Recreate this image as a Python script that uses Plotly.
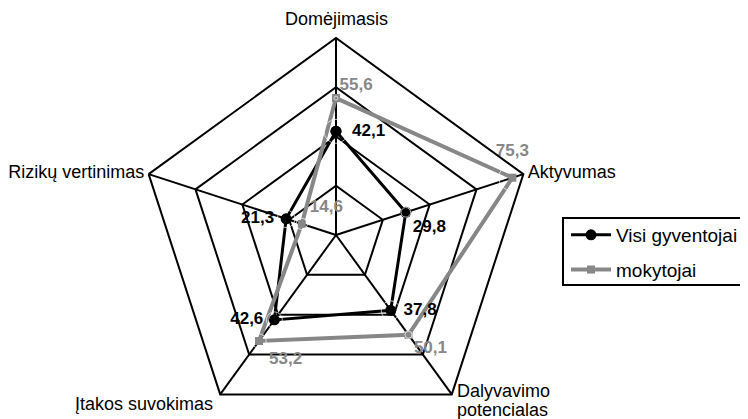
import plotly.graph_objects as go

categories = ["Domėjimasis", "Aktyvumas", "Dalyvavimo potencialas", "Įtakos suvokimas", "Rizikų vertinimas"]
tick_text = ["", "Aktyvumas", "", "", "Rizikų vertinimas"]
visi = [42.1, 29.8, 37.8, 42.6, 21.3]
mokytojai = [55.6, 75.3, 50.1, 53.2, 14.6]
series_names = ["Visi gyventojai", "mokytojai"]

# label placement styles (position + spacing from the point)
visi_pos = ["middle right", "bottom right", "middle right", "middle left", "middle left"]
visi_gap = [24, 9.6, 19, 16, 17.6]
mok_pos = ["top right", "top center", "bottom right", "bottom right", "top right"]
mok_gap = [4, 27, 7, 14.4, 11.2]

def fmt(v):
    return f"{v:.1f}".replace(".", ",")

def closed(a):
    return list(a) + [a[0]]

GREY = "#878787"
FONT = "Liberation Sans, Arial"
fig = go.Figure()
fig.add_trace(go.Scatterpolar(
    r=closed(visi), theta=closed(categories), name=series_names[0],
    mode="lines+markers", legendgroup="a",
    line=dict(color="black", width=3),
    marker=dict(symbol="circle", size=11, color="black"),
))
fig.add_trace(go.Scatterpolar(
    r=closed(mokytojai), theta=closed(categories), name=series_names[1],
    mode="lines+markers", legendgroup="b",
    line=dict(color=GREY, width=4),
    marker=dict(symbol="square", size=8, color=GREY),
))
# data labels
fig.add_trace(go.Scatterpolar(
    r=visi, theta=categories, mode="markers+text", showlegend=False, hoverinfo="skip",
    marker=dict(size=visi_gap, color="rgba(0,0,0,0)"),
    text=[fmt(v) for v in visi], textposition=visi_pos,
    textfont=dict(family=FONT, size=17, color="black", weight="bold"),
))
fig.add_trace(go.Scatterpolar(
    r=mokytojai, theta=categories, mode="markers+text", showlegend=False, hoverinfo="skip",
    marker=dict(size=mok_gap, color="rgba(0,0,0,0)"),
    text=[fmt(v) for v in mokytojai], textposition=mok_pos,
    textfont=dict(family=FONT, size=17, color=GREY, weight="bold"),
))

# page has an 8px body margin; figure is offset by it
W, H = 740, 440
cx, cy, R = 328, 227, 197

def ann(text, x, y, xanchor):
    return dict(text=text, xref="paper", yref="paper", x=x / W, y=1 - y / H,
                xanchor=xanchor, yanchor="middle", showarrow=False,
                font=dict(size=18, family=FONT, color="black"))

fig.update_layout(
    width=W, height=H,
    margin=dict(l=0, r=0, t=0, b=0, autoexpand=False),
    paper_bgcolor="white",
    font=dict(family=FONT, size=18, color="black"),
    polar=dict(
        domain=dict(x=[(cx - R) / W, (cx + R) / W], y=[1 - (cy + R) / H, 1 - (cy - R) / H]),
        gridshape="linear",
        bgcolor="white",
        radialaxis=dict(range=[0, 80], tickvals=[20, 40, 60], showticklabels=False,
                        ticks="", showline=False, gridcolor="black", gridwidth=2),
        angularaxis=dict(direction="clockwise", rotation=90, ticks="",
                         tickmode="array", tickvals=categories, ticktext=tick_text,
                         showline=True, linecolor="black", linewidth=2,
                         gridcolor="black", gridwidth=2,
                         tickfont=dict(size=18, family=FONT)),
    ),
    legend=dict(x=558 / W, y=1 - 208 / H, xanchor="left", yanchor="top",
                borderwidth=0, bgcolor="rgba(0,0,0,0)",
                font=dict(size=19), tracegroupgap=7, itemwidth=40),
    shapes=[dict(type="rect", xref="paper", yref="paper", layer="below",
                 x0=555 / W, x1=1.05, y0=1 - 210 / H, y1=1 - 277 / H,
                 line=dict(color="black", width=2), fillcolor="white")],
    annotations=[
        ann("Domėjimasis", 328, 11, "center"),
        ann("Dalyvavimo", 447, 383, "left"),
        ann("potencialas", 447, 402, "left"),
        ann("Įtakos suvokimas", 207, 396, "right"),
    ],
)
fig.write_html("out.html")
